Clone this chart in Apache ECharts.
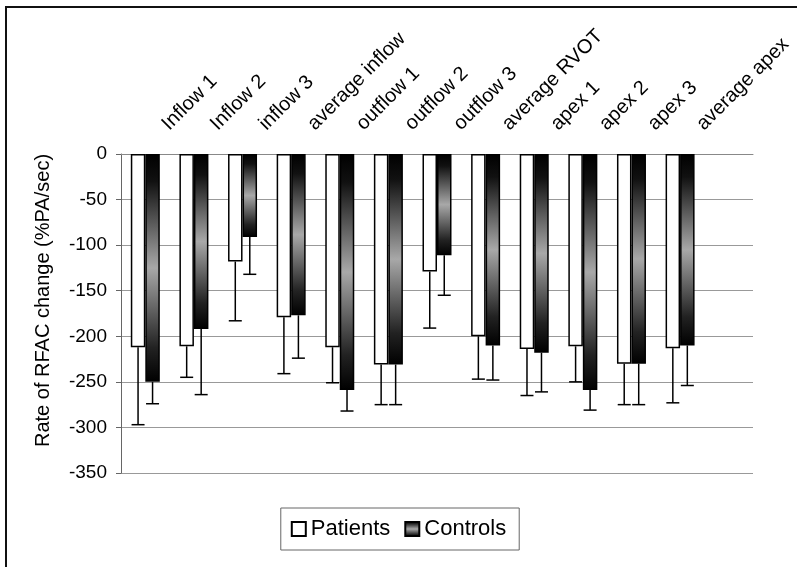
<!DOCTYPE html>
<html>
<head>
<meta charset="utf-8">
<script src="https://cdn.jsdelivr.net/npm/echarts@6/dist/echarts.min.js"></script>
<style>
  html, body { margin: 0; padding: 0; background: #fff; }
  #chart { position: absolute; left: 0; top: 0; width: 797px; height: 567px; }
  #frame { position: absolute; left: 5px; top: 6px; width: 1000px; height: 1000px;
           border-left: 2px solid #111; border-top: 2px solid #111; pointer-events: none; }
</style>
</head>
<body>
<div id="chart"></div>
<div id="frame"></div>
<script>
const categories = ['Inflow 1', 'Inflow 2', 'inflow 3', 'average inflow', 'outflow 1', 'outflow 2',
  'outflow 3', 'average RVOT', 'apex 1', 'apex 2', 'apex 3', 'average apex', ''];
const patients = [-212, -211, -118, -179, -212, -231, -129, -200, -214, -211, -230, -213, null];
const patientsErr = [85, 34, 65, 62, 39, 44, 62, 47, 51, 39, 45, 60, null];
const controls = [-250, -192, -91, -177, -259, -231, -111, -210, -218, -259, -230, -210, null];
const controlsErr = [24, 72, 41, 47, 23, 44, 44, 38, 43, 22, 45, 44, null];
const yTicks = { min: -350, max: 0, interval: 50 };

const BAR_W = 14.5;
const FONT = 'Liberation Sans, Arial, sans-serif';
const LABEL_DX = 20;

const controlsFill = new echarts.graphic.LinearGradient(0, 0, 0, 1, [
  { offset: 0, color: '#000' },
  { offset: 0.12, color: '#111' },
  { offset: 0.5, color: '#a8a8a8' },
  { offset: 0.85, color: '#222' },
  { offset: 1, color: '#000' }
]);

function errData(vals, errs) {
  const out = [];
  vals.forEach((v, i) => { if (v != null && errs[i] != null) out.push([i, v, errs[i]]); });
  return out;
}

function errSeries(vals, errs, side) {
  return {
    type: 'custom',
    z: 5,
    silent: true,
    data: errData(vals, errs),
    renderItem: function (params, api) {
      const i = api.value(0), v = api.value(1), e = api.value(2);
      const p0 = api.coord([i, v]);
      const p1 = api.coord([i, v - e]);
      const x = p0[0] + side * BAR_W / 2;
      const cap = 6.5;
      const st = { stroke: '#000', lineWidth: 1.5 };
      return {
        type: 'group',
        children: [
          { type: 'line', shape: { x1: x, y1: p0[1], x2: x, y2: p1[1] }, style: st },
          { type: 'line', shape: { x1: x - cap, y1: p1[1], x2: x + cap, y2: p1[1] }, style: st }
        ]
      };
    }
  };
}

const chart = echarts.init(document.getElementById('chart'), null, { renderer: 'canvas' });
chart.setOption({
  backgroundColor: '#fff',
  animation: false,
  grid: [
    { left: 121, right: 44, top: 154, bottom: 94, containLabel: false },
    { left: 121 + LABEL_DX, right: 44 - LABEL_DX, top: 154, bottom: 94, containLabel: false }
  ],
  legend: {
    data: ['Patients', 'Controls'],
    icon: 'rect',
    left: 'center',
    top: 508,
    padding: [10, 13, 10, 10],
    itemWidth: 14,
    itemHeight: 14,
    itemGap: 14,
    borderColor: '#666',
    borderWidth: 1,
    textStyle: { fontFamily: FONT, fontSize: 22, color: '#000' }
  },
  xAxis: [
    {
      type: 'category',
      gridIndex: 0,
      data: categories,
      position: 'top',
      axisLine: { show: true, lineStyle: { color: '#888', width: 1 } },
      axisTick: { show: false },
      axisLabel: { show: false },
      splitLine: { show: false }
    },
    {
      type: 'category',
      gridIndex: 1,
      data: categories,
      position: 'top',
      axisLine: { show: false },
      axisTick: { show: false },
      axisLabel: {
        interval: 0,
        rotate: 45,
        margin: 27,
        fontFamily: FONT,
        fontSize: 20,
        color: '#000'
      },
      splitLine: { show: false }
    }
  ],
  yAxis: [
    {
      type: 'value',
      gridIndex: 0,
      min: yTicks.min,
      max: yTicks.max,
      interval: yTicks.interval,
      name: 'Rate of RFAC change (%PA/sec)',
      nameLocation: 'middle',
      nameGap: 68,
      nameTextStyle: { fontFamily: FONT, fontSize: 20, color: '#000', padding: [0, 0, 0, 26] },
      axisLine: { show: true, lineStyle: { color: '#666', width: 1 } },
      axisTick: { show: true, length: 5, inside: false, lineStyle: { color: '#666' } },
      axisLabel: { margin: 14, fontFamily: FONT, fontSize: 19, color: '#000' },
      splitLine: { show: true, lineStyle: { color: '#999', width: 1 } }
    },
    {
      type: 'value',
      gridIndex: 1,
      min: yTicks.min,
      max: yTicks.max,
      interval: yTicks.interval,
      show: false
    }
  ],
  series: [
    {
      name: 'Patients',
      type: 'bar',
      data: patients,
      barWidth: BAR_W,
      barGap: '0%',
      itemStyle: { color: '#fff', borderColor: '#000', borderWidth: 1.5 }
    },
    {
      name: 'Controls',
      type: 'bar',
      data: controls,
      barWidth: BAR_W,
      barGap: '0%',
      itemStyle: { color: controlsFill, borderColor: '#000', borderWidth: 1.5 }
    },
    errSeries(patients, patientsErr, -1),
    errSeries(controls, controlsErr, 1)
  ]
});
</script>
</body>
</html>
